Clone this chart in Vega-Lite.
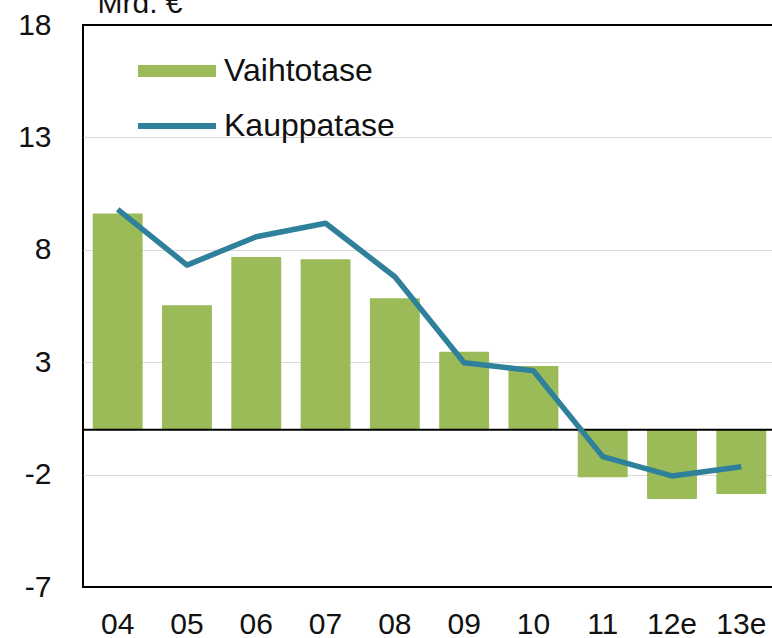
{
  "$schema": "https://vega.github.io/schema/vega-lite/v6.json",
  "width": 690,
  "height": 562,
  "autosize": {"type": "none"},
  "padding": {"left": 83, "top": 25, "right": 0, "bottom": 51},
  "background": "white",
  "config": {
    "view": {"stroke": "#000000", "strokeWidth": 2},
    "font": "Liberation Sans",
    "axis": {"labelFont": "Liberation Sans", "titleFont": "Liberation Sans", "labelColor": "#111111", "titleColor": "#111111"}
  },
  "datasets": {
    "main": [
      {"year": "04", "series": "Vaihtotase", "value": 9.62},
      {"year": "05", "series": "Vaihtotase", "value": 5.53},
      {"year": "06", "series": "Vaihtotase", "value": 7.68},
      {"year": "07", "series": "Vaihtotase", "value": 7.58},
      {"year": "08", "series": "Vaihtotase", "value": 5.84},
      {"year": "09", "series": "Vaihtotase", "value": 3.47},
      {"year": "10", "series": "Vaihtotase", "value": 2.83},
      {"year": "11", "series": "Vaihtotase", "value": -2.12},
      {"year": "12e", "series": "Vaihtotase", "value": -3.09},
      {"year": "13e", "series": "Vaihtotase", "value": -2.86},
      {"year": "04", "series": "Kauppatase", "value": 9.8},
      {"year": "05", "series": "Kauppatase", "value": 7.32},
      {"year": "06", "series": "Kauppatase", "value": 8.58},
      {"year": "07", "series": "Kauppatase", "value": 9.18},
      {"year": "08", "series": "Kauppatase", "value": 6.8},
      {"year": "09", "series": "Kauppatase", "value": 2.98},
      {"year": "10", "series": "Kauppatase", "value": 2.62},
      {"year": "11", "series": "Kauppatase", "value": -1.2},
      {"year": "12e", "series": "Kauppatase", "value": -2.06},
      {"year": "13e", "series": "Kauppatase", "value": -1.65}
    ],
    "zero": [{"v": 0}]
  },
  "data": {"name": "main"},
  "encoding": {
    "x": {
      "field": "year",
      "type": "nominal",
      "sort": null,
      "scale": {"paddingInner": 0.28, "paddingOuter": 0.119, "align": 0.59},
      "axis": {
        "title": null,
        "labelAngle": 0,
        "labelFontSize": 30,
        "labelPadding": 22,
        "ticks": false,
        "domain": false
      }
    },
    "y": {
      "field": "value",
      "type": "quantitative",
      "scale": {"domain": [-7, 18], "nice": false, "zero": false},
      "axis": {
        "values": [-7, -2, 3, 8, 13, 18],
        "labelExpr": "'' + datum.value",
        "title": "Mrd. €",
        "titleAngle": 0,
        "titleAlign": "left",
        "titleBaseline": "alphabetic",
        "titleX": 14,
        "titleY": -13,
        "titleFontSize": 30,
        "titleFontWeight": "normal",
        "labelFontSize": 30,
        "labelPadding": 32,
        "ticks": false,
        "domain": false,
        "grid": true,
        "gridColor": {"condition": {"test": "datum.value === 18 || datum.value === -7", "value": "transparent"}, "value": "#d9d9d9"},
        "gridWidth": 1
      }
    }
  },
  "layer": [
    {
      "transform": [{"filter": "datum.series === 'Vaihtotase'"}],
      "mark": {"type": "bar"},
      "encoding": {
        "color": {
          "field": "series",
          "type": "nominal",
          "scale": {"domain": ["Vaihtotase", "Kauppatase"], "range": ["#9bbb59", "#2f809a"]},
          "legend": {
            "title": null,
            "orient": "none",
            "legendX": 55,
            "legendY": 7,
            "padding": 0,
            "labelFontSize": 32,
            "labelFont": "Liberation Sans",
            "labelColor": "#111111",
            "labelOffset": 8,
            "labelLimit": 0,
            "rowPadding": -22,
            "symbolSize": 6084,
            "symbolStrokeWidth": 0,
            "encode": {
              "symbols": {
                "update": {
                  "shape": {"signal": "datum.value === 'Vaihtotase' ? 'M-1,-0.155H1V0.155H-1Z' : 'M-1,-0.075H1V0.075H-1Z'"},
                  "fill": {"signal": "scale('color', datum.value)"},
                  "stroke": {"value": "transparent"},
                  "opacity": {"value": 1},
                  "fillOpacity": {"value": 1}
                }
              }
            }
          }
        }
      }
    },
    {
      "data": {"name": "zero"},
      "mark": {"type": "rule", "color": "#000000", "strokeWidth": 2},
      "encoding": {
        "y": {"field": "v", "type": "quantitative"},
        "x": null
      }
    },
    {
      "transform": [{"filter": "datum.series === 'Kauppatase'"}],
      "mark": {"type": "line", "strokeWidth": 5.5, "strokeJoin": "round", "strokeCap": "butt"},
      "encoding": {
        "color": {"field": "series", "type": "nominal"}
      }
    }
  ]
}
